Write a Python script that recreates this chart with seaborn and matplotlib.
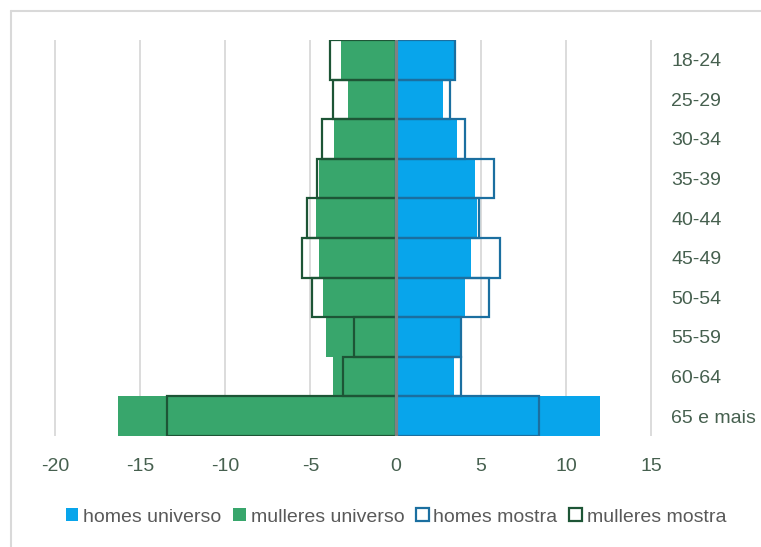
import matplotlib
matplotlib.use("Agg")
import matplotlib.pyplot as plt
from matplotlib.patches import Patch
from matplotlib.lines import Line2D
import seaborn as sns
import pandas as pd

# Age groups (top to bottom) and percentages by sex
ages = ["18-24", "25-29", "30-34", "35-39", "40-44",
        "45-49", "50-54", "55-59", "60-64", "65 e mais"]
homes_universo = [3.4, 2.8, 3.6, 4.65, 4.75, 4.4, 4.1, 3.85, 3.45, 12.0]
mulleres_universo = [-3.2, -2.8, -3.6, -4.5, -4.65, -4.5, -4.25, -4.1, -3.65, -16.3]
homes_mostra = [3.5, 3.2, 4.1, 5.8, 4.9, 6.1, 5.5, 3.85, 3.83, 8.4]
mulleres_mostra = [-3.87, -3.7, -4.3, -4.6, -5.2, -5.5, -4.9, -2.45, -3.07, -13.4]
x_ticks = [-20, -15, -10, -5, 0, 5, 10, 15]
legend_labels = ["homes universo", "mulleres universo", "homes mostra", "mulleres mostra"]

BLUE = "#08a5eb"
GREEN = "#38a66c"
BLUE_EDGE = "#1b6fa0"
GREEN_EDGE = "#1d5536"
TICK_COLOR = "#46604f"
TEXT_GRAY = "#595959"

sns.set_theme(style="white")
plt.rcParams["font.family"] = ["Liberation Sans", "DejaVu Sans"]
FS = 14

W, H, DPI = 761, 547, 100
fig = plt.figure(figsize=(W / DPI, H / DPI), dpi=DPI)
ax = fig.add_axes([54 / W, 1 - 436 / H, (652 - 54) / W, (436 - 40) / H])

df = pd.DataFrame({
    "age": ages,
    "hu": homes_universo,
    "mu": mulleres_universo,
    "hm": homes_mostra,
    "mm": mulleres_mostra,
})

# filled bars: population
sns.barplot(data=df, x="hu", y="age", order=ages, orient="h", color=BLUE,
            saturation=1, width=1.0, linewidth=0, ax=ax, zorder=2)
sns.barplot(data=df, x="mu", y="age", order=ages, orient="h", color=GREEN,
            saturation=1, width=1.0, linewidth=0, ax=ax, zorder=2)
# outlined bars: sample
sns.barplot(data=df, x="hm", y="age", order=ages, orient="h", color=BLUE_EDGE,
            saturation=1, width=1.0, fill=False, linewidth=1.6, ax=ax, zorder=3)
sns.barplot(data=df, x="mm", y="age", order=ages, orient="h", color=GREEN_EDGE,
            saturation=1, width=1.0, fill=False, linewidth=1.6, ax=ax, zorder=3)

ax.axvline(0, color="#808080", lw=2.3, zorder=4)

ax.set_xlim(-20.05, 15.05)
ax.set_ylim(len(ages) - 0.5, -0.5)
ax.set_xticks(x_ticks)
ax.set_xticklabels([str(t) for t in x_ticks])
ax.xaxis.grid(True, color="#d9d9d9", lw=1.3, zorder=0)
ax.yaxis.grid(False)
ax.set_axisbelow(True)
for s in ax.spines.values():
    s.set_visible(False)

ax.yaxis.tick_right()
ax.tick_params(axis="y", length=0, pad=14, labelsize=FS, labelcolor=TICK_COLOR)
ax.tick_params(axis="x", length=0, pad=16, labelsize=FS, labelcolor=TICK_COLOR)
ax.set_xlabel("")
ax.set_ylabel("")

handles = [
    Patch(facecolor=BLUE, edgecolor="none"),
    Patch(facecolor=GREEN, edgecolor="none"),
    Patch(facecolor="white", edgecolor=BLUE_EDGE, linewidth=1.6),
    Patch(facecolor="white", edgecolor=GREEN_EDGE, linewidth=1.6),
]
fig.legend(handles, legend_labels, loc="center", bbox_to_anchor=(396 / W, 1 - 517 / H),
           ncol=4, frameon=False, fontsize=FS, labelcolor=TEXT_GRAY,
           handlelength=0.65, handleheight=0.65, handletextpad=0.25, columnspacing=0.6)

# chart frame
fig.add_artist(Line2D([10.5 / W, 10.5 / W], [0, 1 - 11 / H], color="#d9d9d9", lw=1.5,
                      transform=fig.transFigure))
fig.add_artist(Line2D([10.5 / W, 1], [1 - 11 / H, 1 - 11 / H], color="#d9d9d9", lw=1.5,
                      transform=fig.transFigure))

fig.savefig("out.png", dpi=DPI)
